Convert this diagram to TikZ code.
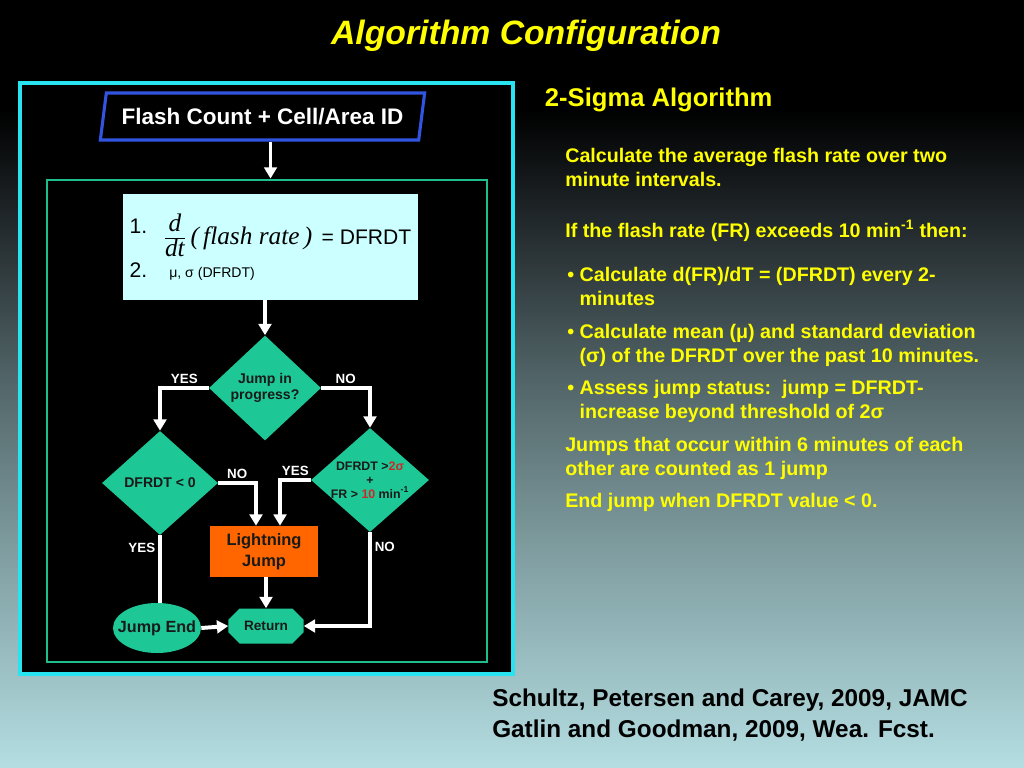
\documentclass[tikz,border=0pt]{standalone}
\usepackage{fontspec}
\setmainfont{Liberation Sans}
\newfontfamily\timesfont{Liberation Serif}
\usetikzlibrary{shapes.geometric,shapes.misc,arrows.meta}
\definecolor{slideyellow}{RGB}{255,255,0}
\definecolor{framecyan}{RGB}{40,228,240}
\definecolor{framegreen}{RGB}{30,190,140}
\definecolor{boxteal}{RGB}{30,200,150}
\definecolor{boxorange}{RGB}{255,102,0}
\definecolor{boxice}{RGB}{204,255,255}
\definecolor{inputblue}{RGB}{50,85,225}
\definecolor{warnred}{RGB}{205,40,40}
\definecolor{bgzero}{RGB}{180,222,226}
\definecolor{bgone}{RGB}{130,160,163}
\definecolor{bgtwo}{RGB}{85,105,108}
\definecolor{bgthree}{RGB}{35,42,45}
\pgfdeclareverticalshading{slidebg}{100bp}{color(0bp)=(bgzero); color(25bp)=(bgzero); color(38.5bp)=(bgone); color(49.5bp)=(bgtwo); color(60.25bp)=(bgthree); color(67.85bp)=(black); color(100bp)=(black)}
\begin{document}
\begin{tikzpicture}[x=0.025cm, y=-0.025cm,
  every node/.style={font=\bfseries},
  decision/.style={diamond, fill=boxteal, text=black!90, inner sep=0pt, align=center, font=\fontsize{10}{11.5}\selectfont\bfseries},
  flow/.style={white, line width=2.8pt, -{Triangle[width=9pt,length=8pt]}},
  link/.style={white, line width=2.8pt},
  answer/.style={text=white, inner sep=2pt, font=\fontsize{9.5}{11}\selectfont\bfseries},
  note/.style={anchor=north west, inner sep=0pt, text=slideyellow, align=left, font=\fontsize{14}{17}\selectfont\bfseries}]
\useasboundingbox (0,0) rectangle (1024,768);
\shade[shading=slidebg] (0,0) rectangle (1024,768);
\node[text=slideyellow, anchor=base, font=\fontsize{24}{28}\selectfont\bfseries\itshape] (title) at (526,45) {Algorithm Configuration};
\draw[framecyan, line width=2.2pt, fill=black] (20,83) rectangle (513,674);
\node[draw=framegreen, line width=2pt, minimum width=11cm, minimum height=12.05cm] (core) at (267,421) {};
\node[trapezium, trapezium left angle=78, trapezium right angle=102, trapezium stretches=true, draw=inputblue, line width=2.2pt, fill=black, text=white, minimum width=8.125cm, minimum height=1.175cm, font=\fontsize{16}{19}\selectfont\bfseries] (flash) at (262.5,116.5) {Flash Count + Cell/Area ID};
\node[fill=boxice, inner xsep=5pt, minimum width=7.375cm, minimum height=2.65cm, align=left, font=\fontsize{15}{18}\selectfont] (calc) at (270.5,247) {\raisebox{8pt}{1.}\hspace{0.4cm}{\fontsize{18}{20}\selectfont${\hbox{\raise2.5pt\hbox{\timesfont\itshape d}}\over\hbox{\lower2.5pt\hbox{\timesfont\itshape dt}}}$\,\timesfont\itshape(\,flash rate\,)}\, = DFRDT\\[3pt]2.\hspace{0.55cm}{\fontsize{10}{12}\selectfont μ, σ (DFRDT)}};
\node[decision, minimum width=2.8cm, minimum height=2.625cm] (jip) at (265,388) {Jump in\\progress?};
\node[decision, minimum width=2.9cm, minimum height=2.6cm] (neg) at (160,483) {DFRDT < 0};
\node[decision, inner xsep=-14pt, minimum width=2.95cm, minimum height=2.6cm, font=\fontsize{8.8}{9.8}\selectfont\bfseries] (thr) at (370,480) {DFRDT >\textcolor{warnred}{2σ}\\+\\FR > \textcolor{warnred}{10} min\textsuperscript{-1}};
\node[fill=boxorange, text=black!90, align=center, minimum width=2.7cm, minimum height=1.275cm, font=\fontsize{11.7}{15}\selectfont\bfseries] (lj) at (264,551.5) {Lightning\\Jump};
\node[chamfered rectangle, chamfered rectangle xsep=3pt, chamfered rectangle ysep=5pt, fill=boxteal, text=black!90, minimum width=1.875cm, minimum height=0.875cm, font=\fontsize{9.7}{11}\selectfont\bfseries] (ret) at (266,626) {Return};
\node[ellipse, fill=boxteal, text=black!90, inner xsep=-6pt, inner ysep=0pt, minimum width=2.2cm, minimum height=1.25cm, font=\fontsize{11.5}{14}\selectfont\bfseries] (je) at (157,628) {Jump End};
\draw[flow] ([xshift=0.2cm]flash.south) -- ([xshift=0.2cm]flash.south |- core.north);
\draw[flow] (calc.south -| jip.north) -- (jip.north);
\draw[flow] (jip.west) -| node[answer, pos=0.25, above] {YES} (neg.north);
\draw[flow] (jip.east) -| node[answer, pos=0.25, above] {NO} (thr.north);
\draw[flow] (neg.east) -| node[answer, pos=0.25, above] {NO} ([xshift=-0.2cm]lj.north);
\draw[flow] (thr.west) -| node[answer, pos=0.25, above] {YES} ([xshift=0.4cm]lj.north);
\draw[link] (neg.south) -- node[answer, pos=0.18, left] {YES} (neg.south |- je.north);
\draw[flow] (je.east) -- (ret.west);
\draw[flow] (lj.south -| ret.north) -- (ret.north);
\draw[flow] (thr.south) |- node[answer, pos=0.08, right] {NO} (ret.east);
\node[text=slideyellow, anchor=base west, font=\fontsize{18.2}{22}\selectfont\bfseries] (algo) at (540,107) {2-Sigma Algorithm};
\node[note] (avg) at (565,148) {Calculate the average flash rate over two\\minute intervals.};
\node[note] (cond) at (565,220) {If the flash rate (FR) exceeds 10 min\textsuperscript{-1} then:};
\node[note] (dfrdt) at (567,267) {\textbullet\ Calculate d(FR)/dT = (DFRDT) every 2-\\\phantom{\textbullet\ }minutes};
\node[note] (stats) at (567,324) {\textbullet\ Calculate mean (μ) and standard deviation\\\phantom{\textbullet\ }(σ) of the DFRDT over the past 10 minutes.};
\node[note] (assess) at (567,380) {\textbullet\ Assess jump status:\ \ jump = DFRDT-\\\phantom{\textbullet\ }increase beyond threshold of 2σ};
\node[note] (merge) at (565,437) {Jumps that occur within 6 minutes of each\\other are counted as 1 jump};
\node[note] (stop) at (565,493) {End jump when DFRDT value < 0.};
\node[anchor=north west, inner sep=0pt, align=left, font=\fontsize{17.3}{22}\selectfont\bfseries] (refs) at (492,689) {Schultz, Petersen and Carey, 2009, JAMC\\Gatlin and Goodman, 2009, Wea. Fcst.};
\end{tikzpicture}
\end{document}
